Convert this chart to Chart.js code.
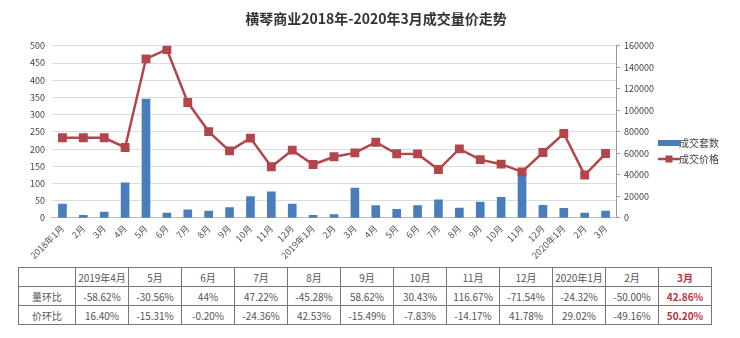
<!DOCTYPE html>
<html>
<head>
<meta charset="utf-8">
<script src="https://cdn.jsdelivr.net/npm/chart.js@4/dist/chart.umd.min.js"></script>
<style>
  html, body { margin: 0; padding: 0; background: #fff; }
  body { width: 740px; height: 338px; overflow: hidden; font-family: "Noto Sans CJK SC", "Noto Sans", sans-serif; }
  #wrap { position: relative; width: 740px; height: 266px; }
  table { position: absolute; left: 18px; top: 267px; border-collapse: collapse; font-size: 10px; color: #555; background: #fff; }
  td { border: 1px solid #777; height: 18px; text-align: center; padding: 0; }
  td.first { width: 56px; }
  td.col { width: 52px; }
  td.hot { color: #b8323c; font-weight: bold; }
</style>
</head>
<body>
<div id="wrap"><canvas id="volumeChart" width="740" height="266"></canvas></div>
<table id="ratioTable"></table>
<script>
const months = ['2018年1月', '2月', '3月', '4月', '5月', '6月', '7月', '8月', '9月', '10月', '11月', '12月',
  '2019年1月', '2月', '3月', '4月', '5月', '6月', '7月', '8月', '9月', '10月', '11月', '12月',
  '2020年1月', '2月', '3月'];
// 成交套数 (units sold)
const deals = [40, 8, 17, 102, 345, 14, 24, 20, 30, 62, 76, 40,
  8, 10, 87, 36, 25, 36, 53, 29, 46, 60, 130, 37,
  28, 14, 20];
// 成交价格 (yuan / m2)
const prices = [74500, 74500, 74500, 65500, 147900, 156600, 107300, 80300, 62400, 74200, 47600, 63000,
  49700, 56900, 60500, 70420, 59640, 59520, 45020, 64170, 54230, 49980, 42900, 60820,
  78460, 39890, 59910];

const tableHeads = ['2019年4月', '5月', '6月', '7月', '8月', '9月', '10月', '11月', '12月', '2020年1月', '2月', '3月'];
const volumeChange = ['-58.62%', '-30.56%', '44%', '47.22%', '-45.28%', '58.62%', '30.43%', '116.67%', '-71.54%', '-24.32%', '-50.00%', '42.86%'];
const priceChange = ['16.40%', '-15.31%', '-0.20%', '-24.36%', '42.53%', '-15.49%', '-7.83%', '-14.17%', '41.78%', '29.02%', '-49.16%', '50.20%'];

const FONT = '"Noto Sans CJK SC", "Noto Sans", sans-serif';
const BAR_COLOR = '#4a7ebb';
const LINE_COLOR = '#b2464b';

// legend icon for the price series: a short line with a square marker
function lineMarkerIcon() {
    const c = document.createElement('canvas');
    c.width = 22;
    c.height = 8;
    const g = c.getContext('2d');
    g.strokeStyle = LINE_COLOR;
    g.lineWidth = 2.5;
    g.beginPath();
    g.moveTo(0, 4);
    g.lineTo(22, 4);
    g.stroke();
    g.fillStyle = LINE_COLOR;
    g.fillRect(7.5, 0.5, 7, 7);
    return c;
}

function barIcon() {
    const c = document.createElement('canvas');
    c.width = 22;
    c.height = 8;
    const g = c.getContext('2d');
    g.fillStyle = BAR_COLOR;
    g.fillRect(0, 1, 22, 6);
    return c;
}

document.addEventListener("DOMContentLoaded", function () {
    // ratio table under the chart
    const rows = [[''].concat(tableHeads), ['量环比'].concat(volumeChange), ['价环比'].concat(priceChange)];
    const table = document.getElementById('ratioTable');
    rows.forEach(function (row, r) {
        const tr = document.createElement('tr');
        row.forEach(function (text, c) {
            const td = document.createElement('td');
            td.textContent = text;
            td.className = c === 0 ? 'first' : 'col';
            if (c === row.length - 1) td.className += ' hot';
            tr.appendChild(td);
        });
        table.appendChild(tr);
    });

    const icons = [barIcon(), lineMarkerIcon()];

    const ctx = document.getElementById('volumeChart').getContext('2d');
    new Chart(ctx, {
        data: {
            labels: months,
            datasets: [{
                type: 'bar',
                label: '成交套数',
                data: deals,
                yAxisID: 'y',
                backgroundColor: BAR_COLOR,
                barThickness: 8,
                order: 2
            }, {
                type: 'line',
                label: '成交价格',
                data: prices,
                yAxisID: 'y1',
                borderColor: LINE_COLOR,
                backgroundColor: LINE_COLOR,
                borderWidth: 2.5,
                pointStyle: 'rect',
                pointRadius: 4.5,
                pointHoverRadius: 4.5,
                tension: 0,
                order: 1
            }]
        },
        options: {
            responsive: false,
            animation: false,
            layout: { padding: { left: 23, right: 11, top: 4, bottom: 0 } },
            plugins: {
                title: {
                    display: true,
                    text: '横琴商业2018年-2020年3月成交量价走势',
                    color: '#333',
                    font: { family: FONT, size: 14, weight: 'bold' },
                    padding: { top: 6, bottom: 19 }
                },
                legend: {
                    position: 'right',
                    title: { display: true, text: ' ', font: { size: 10 }, padding: 10 },
                    labels: {
                        color: '#444',
                        font: { family: FONT, size: 10 },
                        usePointStyle: true,
                        padding: 6,
                        sort: function (a, b) { return a.datasetIndex - b.datasetIndex; },
                        generateLabels: function (chart) {
                            return chart.data.datasets.map(function (ds, i) {
                                return {
                                    text: ds.label,
                                    fontColor: '#444',
                                    pointStyle: icons[i],
                                    datasetIndex: i,
                                    hidden: false,
                                    lineWidth: 0
                                };
                            });
                        }
                    }
                },
                tooltip: { enabled: false }
            },
            scales: {
                x: {
                    offset: true,
                    grid: { display: false, drawTicks: false },
                    border: { color: '#bbb' },
                    ticks: {
                        color: '#555',
                        font: { family: FONT, size: 9 },
                        minRotation: 45,
                        maxRotation: 45,
                        autoSkip: false,
                        padding: 5
                    }
                },
                y: {
                    position: 'left',
                    min: 0,
                    max: 500,
                    ticks: { stepSize: 50, color: '#444', font: { family: FONT, size: 9 }, padding: 7 },
                    grid: { color: '#dcdcdc', drawTicks: false },
                    border: { display: false }
                },
                y1: {
                    position: 'right',
                    min: 0,
                    max: 160000,
                    ticks: {
                        stepSize: 20000,
                        color: '#444',
                        font: { family: FONT, size: 9 },
                        padding: 4,
                        callback: function (v) { return String(v); }
                    },
                    grid: { drawOnChartArea: false, color: '#999', tickLength: 4 },
                    border: { color: '#999' }
                }
            }
        }
    });
});
</script>
</body>
</html>
